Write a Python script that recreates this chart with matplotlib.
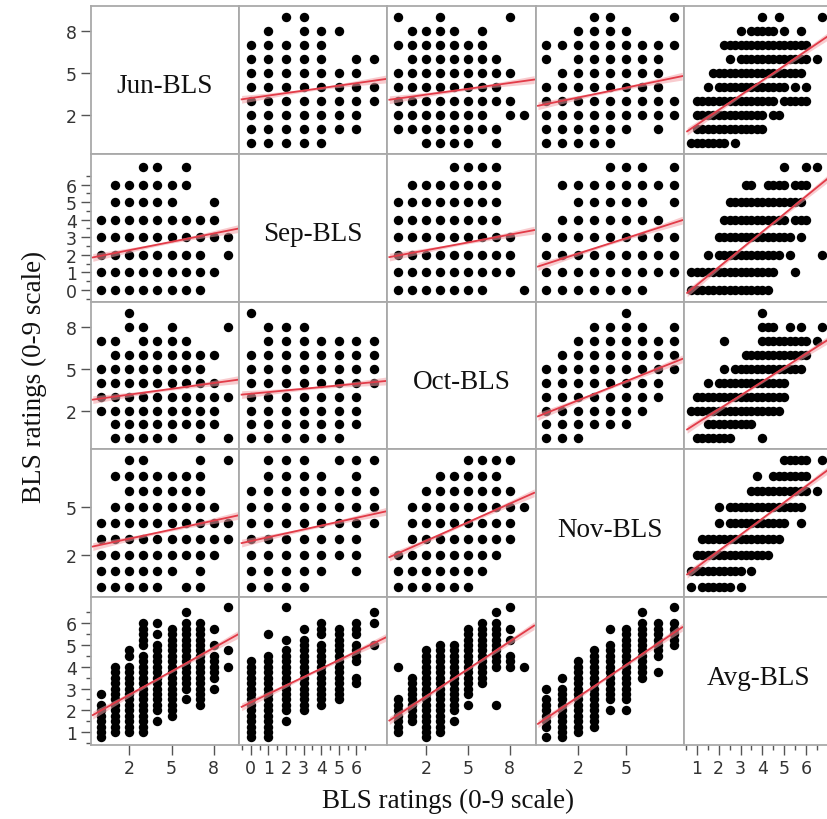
import matplotlib
matplotlib.use("Agg")
import matplotlib.pyplot as plt
import numpy as np

# variables in matrix order
labels = ["Jun-BLS", "Sep-BLS", "Oct-BLS", "Nov-BLS", "Avg-BLS"]
limits = [(-0.74, 9.79), (-0.67, 7.75), (-0.8, 9.85), (-0.67, 8.65), (0.4, 7.2)]
major_ticks = [[2, 5, 8], [0, 1, 2, 3, 4, 5, 6], [2, 5, 8], [2, 5], [1, 2, 3, 4, 5, 6]]
minor_ticks = [[], [-0.5, 0.5, 1.5, 2.5, 3.5, 4.5, 5.5, 6.5], [], [],
               [0.5, 1.5, 2.5, 3.5, 4.5, 5.5, 6.5]]

# observed rating combinations: key = first variable, values = second variable
jun_sep = {9: [2, 3], 8: [1, 3, 4, 5], 7: [0, 1, 2, 3, 4], 6: [0, 1, 2, 3, 4, 6, 7],
           5: [0, 1, 2, 3, 4, 5, 6], 4: [0, 1, 2, 3, 4, 5, 6, 7], 3: [0, 1, 2, 3, 4, 5, 6, 7],
           2: [0, 1, 2, 3, 4, 5, 6], 1: [0, 1, 2, 3, 4, 5, 6], 0: [0, 1, 2, 3, 4]}
jun_oct = {9: [0, 3, 8], 8: [1, 2, 3, 4, 6], 7: [0, 1, 2, 3, 4, 5, 6], 6: [1, 2, 3, 4, 5, 6, 7],
           5: [0, 1, 2, 3, 4, 5, 6, 7, 8], 4: [0, 1, 2, 3, 4, 5, 6, 7],
           3: [0, 1, 2, 3, 4, 5, 6, 7, 8], 2: [0, 1, 2, 3, 4, 5, 6, 8, 9],
           1: [0, 1, 2, 3, 4, 5, 6, 7], 0: [2, 3, 4, 5, 7]}
jun_nov = {9: [3, 4, 8], 8: [2, 3, 4, 5], 7: [0, 1, 2, 3, 4, 5, 6, 7, 8],
           6: [0, 2, 3, 4, 5, 6, 7], 5: [1, 2, 3, 4, 5, 6, 7], 4: [0, 1, 2, 3, 4, 5, 6, 7],
           3: [0, 1, 2, 3, 4, 5, 6, 7, 8], 2: [0, 1, 2, 3, 4, 5, 6, 7, 8],
           1: [0, 1, 2, 3, 4, 5, 7], 0: [0, 1, 2, 3, 4]}
sep_oct = {7: [4, 5, 6, 7], 6: [1, 2, 3, 4, 5, 6, 7], 5: [0, 1, 2, 3, 4, 5, 6, 7],
           4: [0, 1, 2, 3, 4, 5, 6, 7], 3: [0, 1, 2, 3, 4, 5, 6, 7, 8],
           2: [0, 1, 2, 3, 4, 5, 6, 7, 8], 1: [0, 1, 2, 3, 4, 5, 6, 7, 8],
           0: [0, 1, 2, 3, 4, 5, 6, 9]}
sep_nov = {7: [4, 5, 6, 8], 6: [1, 2, 3, 4, 5, 6, 7, 8], 5: [2, 3, 4, 5, 6, 8],
           4: [1, 2, 3, 4, 5, 6, 7], 3: [0, 1, 2, 3, 4, 5, 6, 7, 8],
           2: [0, 1, 2, 3, 4, 5, 6, 7, 8], 1: [0, 1, 2, 3, 4, 5, 6, 7, 8],
           0: [0, 1, 2, 3, 4, 5, 6]}
oct_nov = {9: [5], 8: [3, 4, 5, 6, 8], 7: [2, 3, 4, 5, 6, 7, 8], 6: [1, 2, 3, 4, 5, 6, 7, 8],
           5: [0, 1, 2, 3, 4, 5, 6, 7, 8], 4: [0, 1, 2, 3, 4, 5, 6, 7],
           3: [0, 1, 2, 3, 4, 5, 6, 7], 2: [0, 1, 2, 3, 4, 5, 6], 1: [0, 1, 2, 3, 4, 5],
           0: [0, 1, 2]}

# monthly rating vs. average rating: runs of quarter-point averages (lo, hi)
jun_avg = {9: [(4.0, 4.0), (4.75, 4.75), (6.75, 6.75)],
           8: [(3.0, 3.0), (3.5, 4.25), (4.5, 4.5), (5.0, 5.0), (5.75, 5.75)],
           7: [(2.25, 6.0)],
           6: [(2.5, 2.5), (3.0, 6.0), (6.5, 6.5)],
           5: [(1.75, 5.75)],
           4: [(1.5, 1.5), (2.0, 5.0), (5.5, 5.5), (6.0, 6.0)],
           3: [(1.0, 4.5), (5.0, 6.0)],
           2: [(1.0, 4.0), (4.5, 4.75)],
           1: [(1.0, 4.0)],
           0: [(0.75, 2.25), (2.75, 2.75)]}
sep_avg = {7: [(5.0, 5.0), (6.0, 6.0), (6.5, 6.5)],
           6: [(3.25, 3.5), (4.25, 5.0), (5.5, 6.0)],
           5: [(2.5, 5.75)],
           4: [(2.25, 5.0), (5.5, 6.0)],
           3: [(2.0, 5.25), (5.75, 5.75)],
           2: [(1.5, 1.5), (2.0, 4.75), (5.25, 5.25), (6.75, 6.75)],
           1: [(0.75, 4.5), (5.5, 5.5)],
           0: [(0.75, 4.25)]}
oct_avg = {9: [(4.0, 4.0)],
           8: [(4.0, 4.5), (5.25, 5.25), (5.75, 5.75), (6.75, 6.75)],
           7: [(2.25, 2.25), (4.0, 6.0), (6.5, 6.5)],
           6: [(3.25, 6.0)],
           5: [(2.25, 2.25), (2.75, 5.75)],
           4: [(1.5, 1.5), (2.0, 5.0)],
           3: [(1.0, 5.0)],
           2: [(0.75, 4.75)],
           1: [(1.5, 3.5)],
           0: [(1.0, 2.5), (4.0, 4.0)]}
nov_avg = {8: [(5.0, 6.0), (6.75, 6.75)],
           7: [(3.75, 3.75), (4.5, 6.0)],
           6: [(3.5, 6.0), (6.5, 6.5)],
           5: [(2.0, 2.0), (2.5, 5.75)],
           4: [(2.0, 2.0), (2.5, 5.0), (5.75, 5.75)],
           3: [(1.25, 4.75)],
           2: [(1.0, 4.25)],
           1: [(0.75, 3.0), (3.5, 3.5)],
           0: [(0.75, 0.75), (1.25, 2.5), (3.0, 3.0)]}

# least-squares lines, (intercept, slope) of row variable on column variable
fit_lines = {
    (0, 1): (3.23, 0.177), (0, 2): (3.20, 0.138), (0, 3): (2.80, 0.233), (0, 4): (0.28, 1.05),
    (1, 0): (1.94, 0.159), (1, 2): (1.96, 0.148), (1, 3): (1.48, 0.291), (1, 4): (-0.73, 1.01),
    (2, 0): (2.87, 0.139), (2, 1): (3.21, 0.120), (2, 3): (1.82, 0.456), (2, 4): (0.09, 1.00),
    (3, 0): (2.64, 0.190), (3, 1): (2.87, 0.244), (3, 2): (2.11, 0.390), (3, 4): (0.21, 1.02),
    (4, 0): (1.99, 0.360), (4, 1): (2.36, 0.390), (4, 2): (1.80, 0.420), (4, 3): (1.63, 0.490),
}

pair_tables = {(0, 1): jun_sep, (0, 2): jun_oct, (0, 3): jun_nov, (1, 2): sep_oct,
               (1, 3): sep_nov, (2, 3): oct_nov,
               (0, 4): jun_avg, (1, 4): sep_avg, (2, 4): oct_avg, (3, 4): nov_avg}


def expand(table, runs):
    a, b = [], []
    for key, vals in table.items():
        if runs:
            vals = [v for lo, hi in vals for v in np.arange(lo, hi + 0.01, 0.25)]
        for v in vals:
            a.append(key)
            b.append(v)
    return np.array(a, float), np.array(b, float)


plt.rcParams["font.family"] = ["DejaVu Sans"]
fig, axes = plt.subplots(5, 5, figsize=(8.28, 8.2), dpi=100,
                         gridspec_kw=dict(wspace=0, hspace=0))
fig.subplots_adjust(left=0.1095, right=1.005, top=0.9915, bottom=0.0902)

spine_col = "#a9a9a9"
line_col = "#e23b48"
band_col = "#f4a2a8"
serif = "Liberation Serif"

for r in range(5):
    for c in range(5):
        ax = axes[r, c]
        ax.set_xlim(*limits[c])
        ax.set_ylim(*limits[r])
        for sp in ax.spines.values():
            sp.set_color(spine_col)
            sp.set_linewidth(1.3)
        ax.tick_params(which="both", left=False, bottom=False,
                       labelleft=False, labelbottom=False)
        if r == c:
            ax.text(0.5, 0.46, labels[r], transform=ax.transAxes, ha="center",
                    va="center", fontsize=19.5, family=serif, color="#111111")
            continue

        i, j = min(r, c), max(r, c)
        key, val = expand(pair_tables[(i, j)], runs=(j == 4))
        if r < c:
            xs, ys = val, key
        else:
            xs, ys = key, val
        ax.scatter(xs, ys, s=46, c="black", linewidths=0, zorder=2)

        b0, b1 = fit_lines[(r, c)]
        x0, x1 = limits[c]
        xx = np.linspace(x0 + 0.15, x1 - 0.1, 60)
        yy = b0 + b1 * xx
        # confidence band widens away from the centre of the panel
        u = (xx - (x0 + x1) / 2) / ((x1 - x0) / 2)
        px = (limits[r][1] - limits[r][0]) / 148.0
        hw = px * np.sqrt(1.3 ** 2 + (4.0 ** 2 - 1.3 ** 2) * u ** 2)
        ax.fill_between(xx, yy - hw, yy + hw, color=band_col, alpha=0.55,
                        linewidth=0, zorder=3)
        ax.plot(xx, yy, color=line_col, lw=1.3, zorder=4)

tick_style = dict(colors="#555555", labelcolor="#333333", labelsize=12.5, width=1.0)
for r in range(5):
    ax = axes[r, 0]
    ax.tick_params(which="both", left=True, labelleft=True, **tick_style)
    ax.tick_params(which="major", length=7, pad=3)
    ax.tick_params(which="minor", length=3.5)
    ax.set_yticks(major_ticks[r])
    ax.set_yticks(minor_ticks[r], minor=True)
for c in range(5):
    ax = axes[4, c]
    ax.tick_params(which="both", bottom=True, labelbottom=True, **tick_style)
    ax.tick_params(which="major", length=7, pad=3)
    ax.tick_params(which="minor", length=3.5)
    ax.set_xticks(major_ticks[c])
    ax.set_xticks(minor_ticks[c], minor=True)

fig.text(0.541, 0.023, "BLS ratings (0-9 scale)", ha="center", va="center",
         fontsize=19.5, family=serif, color="#111111")
fig.text(0.042, 0.540, "BLS ratings (0-9 scale)", ha="center", va="center",
         rotation=90, fontsize=19.5, family=serif, color="#111111")

fig.savefig("out.png", dpi=100)
